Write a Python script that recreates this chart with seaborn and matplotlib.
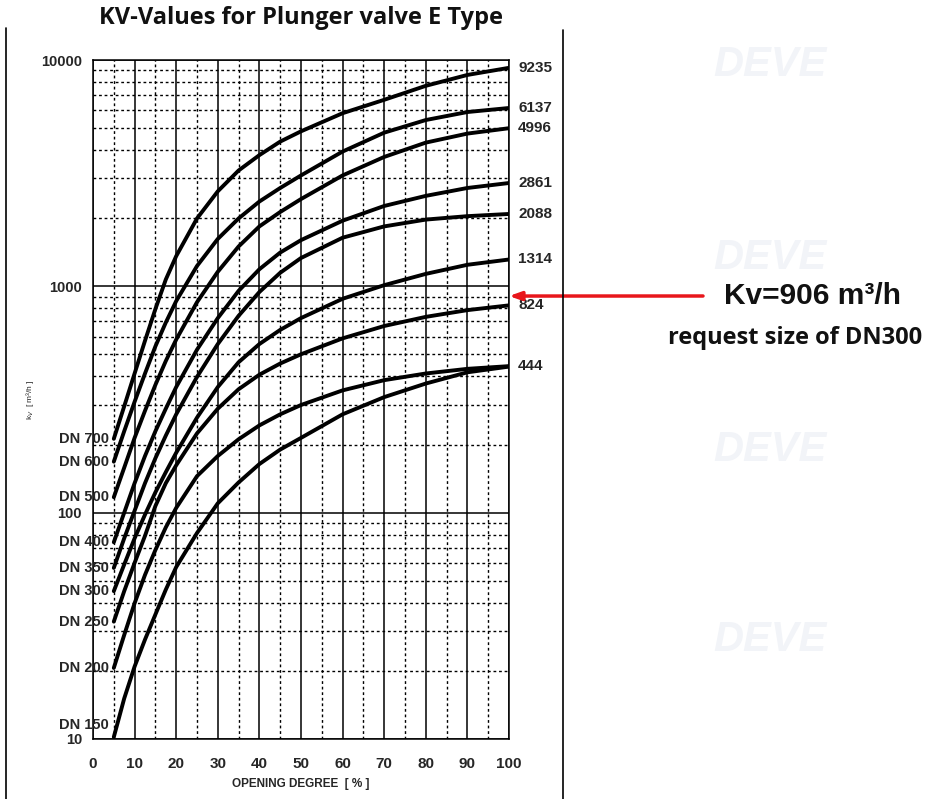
import numpy as np
import pandas as pd
import matplotlib
matplotlib.use("Agg")
import matplotlib.pyplot as plt
import matplotlib.ticker as mticker
from matplotlib.lines import Line2D
import seaborn as sns

# opening degree [%] at which the curves were read
opening = [5, 7.5, 10, 12.5, 15, 17.5, 20, 25, 30, 35, 40, 45, 50, 60, 70, 80, 90, 100]

# kv values, one list per valve size
kv_dn700 = [212, 295, 412, 575, 794, 1072, 1360, 1995, 2630, 3250, 3800, 4360, 4840, 5820, 6670, 7690, 8590, 9235]
kv_dn600 = [168, 229, 309, 412, 543, 692, 861, 1230, 1620, 1995, 2370, 2720, 3090, 3940, 4775, 5430, 5890, 6137]
kv_dn500 = [117, 158, 214, 282, 367, 468, 582, 851, 1160, 1500, 1840, 2130, 2430, 3090, 3730, 4315, 4730, 4996]
kv_dn400 = [74, 100, 135, 178, 229, 288, 359, 525, 724, 955, 1190, 1410, 1600, 1950, 2265, 2510, 2720, 2861]
kv_dn350 = [57, 77, 102, 135, 174, 219, 272, 398, 556, 741, 944, 1148, 1334, 1640, 1840, 1972, 2042, 2088]
kv_dn300 = [45, 59, 77, 98, 123, 151, 184, 263, 359, 462, 556, 642, 724, 881, 1012, 1135, 1245, 1314]
kv_dn250 = [33, 45, 60, 79, 107, 135, 162, 224, 288, 351, 407, 456, 501, 589, 668, 733, 785, 824]
kv_dn200 = [20.6, 28.8, 39.8, 53.1, 68.4, 86.1, 105, 145, 178, 211, 243, 272, 299, 347, 385, 412, 432, 444]
kv_dn150 = [10.2, 15.1, 20.9, 27.5, 35.5, 45.7, 57.5, 81.3, 110, 136, 164, 190, 214, 272, 324, 372, 417, 442]

sizes = ["DN 700", "DN 600", "DN 500", "DN 400", "DN 350", "DN 300", "DN 250", "DN 200", "DN 150"]
end_labels = ["9235", "6137", "4996", "2861", "2088", "1314", "824", "444", ""]
series = [kv_dn700, kv_dn600, kv_dn500, kv_dn400, kv_dn350, kv_dn300, kv_dn250, kv_dn200, kv_dn150]

request_kv = 906

df = pd.concat([pd.DataFrame({"opening": opening, "kv": vals, "size": name})
                for name, vals in zip(sizes, series)], ignore_index=True)

sns.set_style("white")
plt.rcParams["font.family"] = ["Liberation Sans", "DejaVu Sans"]

W, H = 928, 799
fig = plt.figure(figsize=(W / 100, H / 100), dpi=100)
ax = fig.add_axes([93 / W, 1 - 739 / H, (509 - 93) / W, (739 - 60) / H])

sns.lineplot(data=df, x="opening", y="kv", hue="size", palette=["black"] * len(sizes),
             estimator=None, legend=False, lw=2.8, ax=ax, zorder=3)

ax.set_yscale("log")
ax.set_xlim(0, 100)
ax.set_ylim(10, 10000)
ax.set_xticks(range(0, 101, 10))
ax.xaxis.set_minor_locator(mticker.MultipleLocator(5))
ax.set_yticks([10, 100, 1000, 10000])
ax.yaxis.set_minor_locator(mticker.LogLocator(base=10, subs=np.arange(2, 10)))
ax.yaxis.set_minor_formatter(mticker.NullFormatter())
ax.yaxis.set_major_formatter(mticker.FuncFormatter(lambda v, p: f"{int(v)}"))

ax.grid(which="major", color="black", lw=1.1)
ax.grid(which="minor", color="black", lw=1.0, linestyle=(0, (2, 2)))
ax.tick_params(which="minor", length=0)
ax.tick_params(which="major", length=4, width=1, color="black", direction="out")
ax.tick_params(axis="x", pad=9, labelsize=11)
ax.tick_params(axis="y", pad=4, labelsize=10.5)
for lab in ax.get_xticklabels() + ax.get_yticklabels():
    lab.set_fontweight("bold")
for sp in ax.spines.values():
    sp.set_color("black")
    sp.set_linewidth(1.1)

ax.set_xlabel("OPENING DEGREE  [ % ]", fontsize=8.5, fontweight="bold", labelpad=5)
ax.set_ylabel("")
fig.text(30 / W, 1 - 400 / H, r"k$_V$  [ m³/h ]", rotation=90, fontsize=6,
         ha="center", va="center")

# size labels at curve start, kv labels at curve end
for i, (name, vals, end) in enumerate(zip(sizes, series, end_labels)):
    dy = 9 if i == len(sizes) - 1 else 0
    ax.annotate(name, xy=(3.8, vals[0]), xytext=(0, dy), textcoords="offset points",
                ha="right", va="center", fontsize=10.5, fontweight="bold",
                annotation_clip=False, zorder=4)
    if end:
        ax.text(102.2, vals[-1], end, ha="left", va="center", fontsize=11,
                fontweight="bold", clip_on=False)

# red arrow with required kv
ax.annotate("", xy=(100, request_kv), xycoords="data",
            xytext=(703 / W, 1 - 296 / H), textcoords="figure fraction",
            arrowprops=dict(arrowstyle="-|>,head_length=0.7,head_width=0.25",
                            color="#e8161b", lw=2.5, shrinkA=0, shrinkB=0),
            annotation_clip=False)
fig.text(813 / W, 1 - 296 / H, f"Kv={request_kv} m³/h", fontsize=21.5, fontweight="bold",
         ha="center", va="center", color="#111111")
fig.text(668 / W, 1 - 338 / H, "request size of DN300", fontsize=17, fontweight="bold",
         ha="left", va="center", color="#111111", family="Open Sans")

fig.text(301 / W, 1 - 18 / H, "KV-Values for Plunger valve E Type", fontsize=17,
         fontweight="bold", ha="center", va="center", family="Open Sans", color="#111111")

# page frame lines
fig.add_artist(Line2D([6 / W, 6 / W], [0, 1 - 28 / H], color="black", lw=1.2))
fig.add_artist(Line2D([563 / W, 563 / W], [0, 1 - 30 / H], color="black", lw=1.2))

# faint watermarks
for yy in [65, 258, 450, 640]:
    fig.text(770 / W, 1 - yy / H, "DEVE", fontsize=30, fontweight="bold", style="italic",
             color="#f2f4f8", ha="center", va="center", zorder=0)

fig.savefig("out.png", dpi=100)
